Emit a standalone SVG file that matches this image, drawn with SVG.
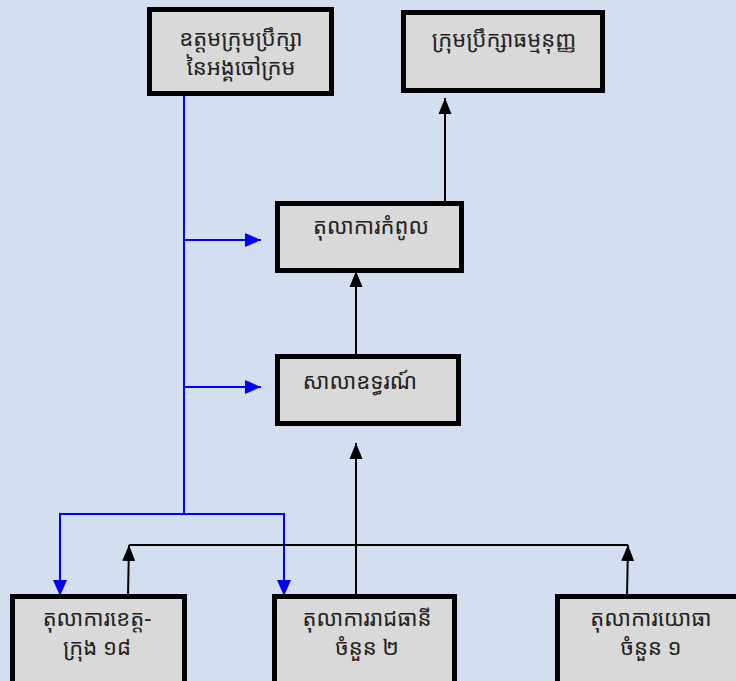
<svg xmlns="http://www.w3.org/2000/svg" width="736" height="681" viewBox="0 0 736 681">
<style>
.box{fill:#d9d9d9;stroke:#000;stroke-width:5}
.t{font-family:"Noto Sans Khmer","Khmer OS","Noto Sans","DejaVu Sans",sans-serif;font-size:22px;fill:#222;text-anchor:middle}
.b{fill:none;stroke:#0000ff;stroke-width:2}
.k{fill:none;stroke:#000;stroke-width:2}
</style>
<defs>
<marker id="ab" markerUnits="userSpaceOnUse" markerWidth="16" markerHeight="16" refX="16" refY="8" orient="auto"><path d="M0,1 L16,8 L0,15 Z" fill="#0000ff"/></marker>
<marker id="ak" markerUnits="userSpaceOnUse" markerWidth="16" markerHeight="14" refX="16" refY="7" orient="auto"><path d="M0,0.5 L16,7 L0,13.5 Z" fill="#000"/></marker>
</defs>
<rect width="736" height="681" fill="#d3dff0"/>
<g id="connectors">
<path class="b" d="M184,96 V514"/>
<path class="b" d="M184,240 H261" marker-end="url(#ab)"/>
<path class="b" d="M184,387 H261" marker-end="url(#ab)"/>
<path class="b" d="M184,514 H60 V596" marker-end="url(#ab)"/>
<path class="b" d="M184,514 H284 V596" marker-end="url(#ab)"/>
<path class="k" d="M445,203 V98" marker-end="url(#ak)"/>
<path class="k" d="M356,356 V271" marker-end="url(#ak)"/>
<path class="k" d="M356,596 V443" marker-end="url(#ak)"/>
<path class="k" d="M129,545 H628"/>
<path class="k" d="M128,596 L129,545" marker-end="url(#ak)"/>
<path class="k" d="M627,596 L628,545" marker-end="url(#ak)"/>
</g>
<g id="n1"><rect class="box" x="149.5" y="9.5" width="182" height="84"/><text class="t" x="241" y="46">ឧត្តមក្រុមប្រឹក្សា</text><text class="t" x="241" y="75">នៃអង្គចៅក្រម</text></g>
<g id="n2"><rect class="box" x="403.5" y="12.5" width="199" height="78"/><text class="t" x="504" y="47">ក្រុមប្រឹក្សាធម្មនុញ្ញ</text></g>
<g id="n3"><rect class="box" x="277.5" y="203.5" width="184" height="67"/><text class="t" x="371" y="234">តុលាការកំពូល</text></g>
<g id="n4"><rect class="box" x="277.5" y="356.5" width="181" height="67"/><text class="t" x="360" y="389">សាលាឧទ្ធរណ៍</text></g>
<g id="n5"><rect class="box" x="12.5" y="596.5" width="172" height="90"/><text class="t" x="97" y="626">តុលាការខេត្ត-</text><text class="t" x="97" y="655">ក្រុង ១៨</text></g>
<g id="n6"><rect class="box" x="274.5" y="596.5" width="180" height="90"/><text class="t" x="367" y="626">តុលាការរាជធានី</text><text class="t" x="367" y="655">ចំនួន ២</text></g>
<g id="n7"><rect class="box" x="557.5" y="596.5" width="185" height="90"/><text class="t" x="651" y="626">តុលាការយោធា</text><text class="t" x="651" y="655">ចំនួន ១</text></g>
</svg>
